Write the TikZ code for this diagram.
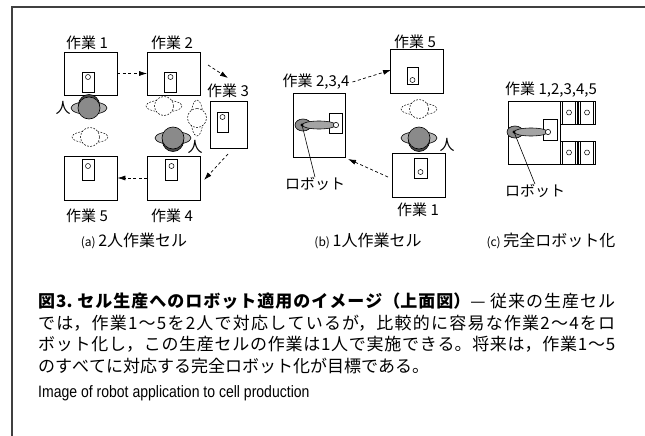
\documentclass[tikz,border=0pt]{standalone}
\usepackage{fontspec}
\usetikzlibrary{arrows.meta,calc}
\setmainfont{Noto Sans CJK JP}
\newfontfamily\narrowsans{Liberation Sans}[FakeStretch=0.85]
\XeTeXlinebreaklocale "ja"
\XeTeXlinebreakskip=0pt plus 2pt
\definecolor{framec}{HTML}{404040}
\definecolor{shoulder}{HTML}{B4B4B4}
\definecolor{headc}{HTML}{8A8A8A}
\definecolor{hair}{HTML}{484848}
\definecolor{robobase}{HTML}{8C8C8C}
\definecolor{roboarm}{HTML}{A4A4A4}
\tikzset{
  person/.pic={
    \draw[line width=0.6pt, fill=shoulder] (0,0) ellipse [x radius=18, y radius=6.5];
    \draw[line width=0.6pt, fill=hair] (0,-3) circle [radius=10.5];
    \draw[line width=0.6pt, fill=headc] (0,0) circle [radius=11];
  },
  ghost/.pic={
    \draw[line width=0.5pt, dash pattern=on 1.8pt off 1.4pt, fill=white] (0,0) ellipse [x radius=18, y radius=6];
    \draw[line width=0.5pt, dash pattern=on 1.8pt off 1.4pt, fill=white] (0,0) circle [radius=9.5];
  },
  robot/.pic={
    \draw[line width=0.6pt, fill=robobase] (0,0) ellipse [x radius=8, y radius=6];
    \draw[line width=0.6pt, fill=roboarm] (16,0) ellipse [x radius=17, y radius=4];
    \fill (-1,0) circle [radius=1.7];
    \draw[line width=0.6pt, fill=white] (33,0) circle [radius=2.6];
  },
  tray/.pic={
    \draw[line width=0.6pt, fill=white] (-8.5,-11.5) rectangle (8.5,11.5);
    \draw[line width=0.5pt] (-6.5,-11.5) -- (-6.5,11.5) (6.5,-11.5) -- (6.5,11.5);
    \draw[line width=0.5pt] (0,0) circle [radius=2.5];
  }
}
\begin{document}
\begin{tikzpicture}[x=1pt,y=-1pt,
  lbl/.style={font=\fontsize{15}{17}\selectfont, inner sep=0},
  sub/.style={font=\fontsize{16}{18}\selectfont, inner sep=0},
  station/.style={draw, line width=0.8pt, minimum width=53pt, minimum height=43pt, inner sep=0},
  jig/.style={draw, line width=0.6pt, minimum width=12pt, minimum height=20pt, inner sep=0},
  hole/.style={draw, line width=0.5pt, circle, minimum size=5pt, inner sep=0},
  flow/.style={line width=0.7pt, dash pattern=on 3pt off 2.5pt, -{Latex[length=8pt,width=5pt]}},
  pointer/.style={line width=0.6pt}
]
\useasboundingbox (0,0) rectangle (645,436);
% page frame
\draw[framec, line width=1.4pt] (12,436) -- (12,7) -- (645,7);

% ---------- (a) two-person cell ----------
\node[station] (a1) at (90.5,73.5) {};
\node[station] (a2) at (174,73.5) {};
\node[station, minimum width=37pt, minimum height=47pt] (a3) at (228.5,124.5) {};
\node[station, minimum height=44pt] (a4) at (174,178) {};
\node[station, minimum height=44pt] (a5) at (90.5,178) {};
\node[jig] (a1j) at (88,82) {};
\node[hole] (a1h) at (88,77) {};
\node[jig] (a2j) at (170.5,82) {};
\node[hole] (a2h) at (170.5,77) {};
\node[jig, minimum width=11pt] (a3j) at (222.5,122) {};
\node[hole] (a3h) at (222.5,117) {};
\node[jig, minimum height=21pt] (a4j) at (171.5,169.5) {};
\node[hole] (a4h) at (171.5,166) {};
\node[jig, minimum height=21pt] (a5j) at (88,169.5) {};
\node[hole] (a5h) at (88,166) {};

\node[lbl] (a1t) at (87,43) {作業 1};
\node[lbl] (a2t) at (172,43) {作業 2};
\node[lbl] (a3t) at (228,91) {作業 3};
\node[lbl] (a4t) at (172,216) {作業 4};
\node[lbl] (a5t) at (87,216) {作業 5};

\coordinate (a23s) at (208,65);
\coordinate (a23e) at (228,78);
\coordinate (a34s) at (228,154);
\coordinate (a34e) at (204,180);
\draw[flow] (a1.east) -- (a2.west);
\draw[flow] (a23s) -- (a23e);
\draw[flow] (a34s) -- (a34e);
\draw[flow] (a4.west) -- (a5.east);

\pic at (90,137) {ghost};
\pic at (164,106) {ghost};
\pic[rotate=90] at (197,118) {ghost};
\pic at (89,108) {person};
\pic[rotate=180] at (173,138) {person};
\node[lbl] (a1p) at (63,108) {人};
\node[lbl] (a2p) at (195,147) {人};

\node[sub] (acap) at (134,241) {{\fontsize{12}{13}\selectfont (a)}\,2人作業セル};

% ---------- (b) one-person cell ----------
\node[station, minimum height=44pt] (b5) at (417,71) {};
\node[jig, minimum width=11pt, minimum height=17pt] (b5j) at (412.5,75.5) {};
\node[hole] (b5h) at (412.5,80) {};
\node[station, minimum height=44pt] (b1) at (419,175) {};
\node[jig, minimum width=13pt] (b1j) at (420.5,168) {};
\node[hole] (b1h) at (420.5,172) {};
\node[station, minimum width=52pt, minimum height=64pt] (b2) at (319,125) {};
\node[jig, minimum width=13pt] (b2j) at (335.5,123) {};
\pic at (303,125) {robot};

\node[lbl] (b5t) at (415,42) {作業 5};
\node[lbl] (b1t) at (418,210) {作業 1};
\node[lbl] (b2t) at (316,82) {作業 2,3,4};
\node[lbl] (brt) at (315,184) {ロボット};
\draw[pointer] (302,125) -- (brt.north);

\pic at (419,109) {ghost};
\pic[rotate=180] at (419,138) {person};
\node[lbl] (bp) at (447,145) {人};

\coordinate (b5in) at (391,70);
\coordinate (b1out) at (388,177);
\coordinate (b2in) at (348,159);
\draw[flow] (b2t.east) ++(3,0) -- (b5in);
\draw[flow] (b1out) -- (b2in);

\node[sub] (bcap) at (368,241) {{\fontsize{12}{13}\selectfont (b)}\,1人作業セル};

% ---------- (c) full robot cell ----------
\node[station, minimum width=52pt, minimum height=63pt] (c0) at (534,132.5) {};
\pic at (569,112.5) {tray};
\pic at (587,112.5) {tray};
\pic at (569,152.5) {tray};
\pic at (587,152.5) {tray};
\node[jig, minimum width=14pt, minimum height=21pt] (cj) at (550,129.5) {};
\pic at (515,132) {robot};
\node[lbl] (ct) at (551,90) {作業 1,2,3,4,5};
\node[lbl] (crt) at (535,191) {ロボット};
\draw[pointer] (514,132) -- (crt.north);

\node[sub] (ccap) at (551,241) {{\fontsize{12}{13}\selectfont (c)}\,完全ロボット化};

% ---------- caption ----------
\node[anchor=north west, inner sep=0, text width=577pt, align=justify,
      font=\fontsize{17}{21.5}\selectfont] (cap) at (38,293) {%
{\bfseries 図3.\ セル生産へのロボット適用のイメージ（上面図）}— 従来の生産セル\linebreak
では，作業1～5を2人で対応しているが，比較的に容易な作業2～4をロ\linebreak
ボット化し，この生産セルの作業は1人で実施できる。将来は，作業1～5\linebreak
のすべてに対応する完全ロボット化が目標である。};
\node[anchor=west, inner sep=0, font=\narrowsans\fontsize{16.5}{18}\selectfont] (eng) at (38,393) {Image of robot application to cell production};
\end{tikzpicture}
\end{document}
